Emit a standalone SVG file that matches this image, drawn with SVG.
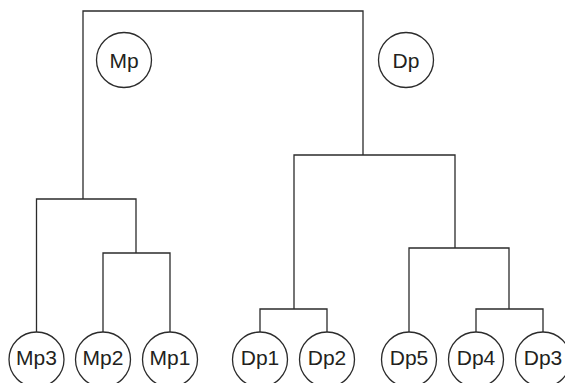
<svg xmlns="http://www.w3.org/2000/svg" width="565" height="383" viewBox="0 0 565 383">
<style>
.n circle{fill:#fff;stroke:#2b2b2b;stroke-width:1.3}
.n text{font-family:"Liberation Sans",Arial,sans-serif;font-size:21px;fill:#231f20;text-anchor:middle}
#connectors path{fill:none;stroke:#2b2b2b;stroke-width:1.3}
</style>
<rect width="565" height="383" fill="#fff"/>
<g id="connectors">
<path d="M83,199 V11 H363 V155"/>
<path d="M36.5,332 V199 H136 V253"/>
<path d="M103,332 V253 H170 V332"/>
<path d="M294,309 V155 H455 V248"/>
<path d="M260,332 V309 H327 V332"/>
<path d="M409,332 V248 H509 V309"/>
<path d="M476,332 V309 H543 V332"/>
</g>
<g id="Mp" class="n"><circle cx="124" cy="60" r="27.5"/><text x="124" y="67.5">Mp</text></g>
<g id="Dp" class="n"><circle cx="406" cy="60" r="27.5"/><text x="406" y="67.5">Dp</text></g>
<g id="Mp3" class="n"><circle cx="36.5" cy="359.5" r="27.5"/><text x="36.5" y="365">Mp3</text></g>
<g id="Mp2" class="n"><circle cx="103" cy="359.5" r="27.5"/><text x="103" y="365">Mp2</text></g>
<g id="Mp1" class="n"><circle cx="170" cy="359.5" r="27.5"/><text x="170" y="365">Mp1</text></g>
<g id="Dp1" class="n"><circle cx="260" cy="359.5" r="27.5"/><text x="260" y="365">Dp1</text></g>
<g id="Dp2" class="n"><circle cx="327" cy="359.5" r="27.5"/><text x="327" y="365">Dp2</text></g>
<g id="Dp5" class="n"><circle cx="409" cy="359.5" r="27.5"/><text x="409" y="365">Dp5</text></g>
<g id="Dp4" class="n"><circle cx="476" cy="359.5" r="27.5"/><text x="476" y="365">Dp4</text></g>
<g id="Dp3" class="n"><circle cx="543" cy="359.5" r="27.5"/><text x="543" y="365">Dp3</text></g>
</svg>
